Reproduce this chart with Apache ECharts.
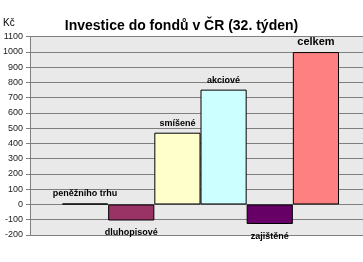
<!DOCTYPE html>
<html><head><meta charset="utf-8">
<script src="https://cdn.jsdelivr.net/npm/echarts@6/dist/echarts.min.js"></script>
<style>html,body{margin:0;padding:0;background:#fff}#c{width:363px;height:262px}</style>
</head><body><div id="c"></div>
<script>
var categories = ['peněžního trhu', 'dluhopisové', 'smíšené', 'akciové', 'zajištěné', 'celkem'];
var values = [6, -105, 470, 752, -128, 998];
var colors = ['#000080', '#993366', '#FFFFCC', '#CCFFFF', '#660066', '#FF8080'];
var yMin = -200, yMax = 1100, yStep = 100;

var chart = echarts.init(document.getElementById('c'), null, {renderer: 'canvas'});
var font = 'Liberation Sans, Arial, sans-serif';
var barData = categories.map(function (name, i) {
  var neg = values[i] < 0;
  return {
    value: values[i],
    itemStyle: {color: colors[i], borderColor: '#000', borderWidth: 1},
    label: {
      show: true,
      position: neg ? 'bottom' : 'top',
      distance: neg ? 8 : 5,
      fontSize: i === 5 ? 11 : 9
    }
  };
});
var gridTop = 36.5, gridBottom = 27;
chart.setOption({
  animation: false,
  backgroundColor: '#fff',
  title: {
    text: 'Investice do fondů v ČR (32. týden)',
    left: 'center', top: 14,
    textStyle: {fontFamily: font, fontWeight: 'bold', fontSize: 14, color: '#000'}
  },
  graphic: [{type: 'text', left: 3, top: 18, style: {text: 'Kč', font: '10px ' + font, fill: '#000'}}],
  grid: [
    {left: 27, right: 0, top: gridTop, bottom: gridBottom, show: true, backgroundColor: '#EAE9E9', borderWidth: 0},
    {left: 62, right: 24, top: gridTop, bottom: gridBottom, show: false}
  ],
  xAxis: [
    {type: 'category', gridIndex: 0, data: [''], show: false},
    {type: 'category', gridIndex: 1, data: categories, show: false}
  ],
  yAxis: [
    {
      type: 'value', gridIndex: 0, min: yMin, max: yMax, interval: yStep,
      axisLine: {show: true, lineStyle: {color: '#7f7f7f'}},
      axisTick: {show: true, length: 4, lineStyle: {color: '#7f7f7f'}},
      axisLabel: {margin: 7, fontFamily: font, fontSize: 9, color: '#222',
        formatter: function (v) { return String(v); }},
      splitLine: {show: true, lineStyle: {color: '#7f7f7f', width: 1}}
    },
    {type: 'value', gridIndex: 1, min: yMin, max: yMax, interval: yStep, show: false, splitLine: {show: false}}
  ],
  series: [{
    type: 'bar',
    xAxisIndex: 1, yAxisIndex: 1,
    barCategoryGap: '0%',
    data: barData,
    label: {
      show: true,
      formatter: function (p) { return p.name; },
      fontFamily: font, fontWeight: 'bold', color: '#000'
    }
  }]
});
</script></body></html>
